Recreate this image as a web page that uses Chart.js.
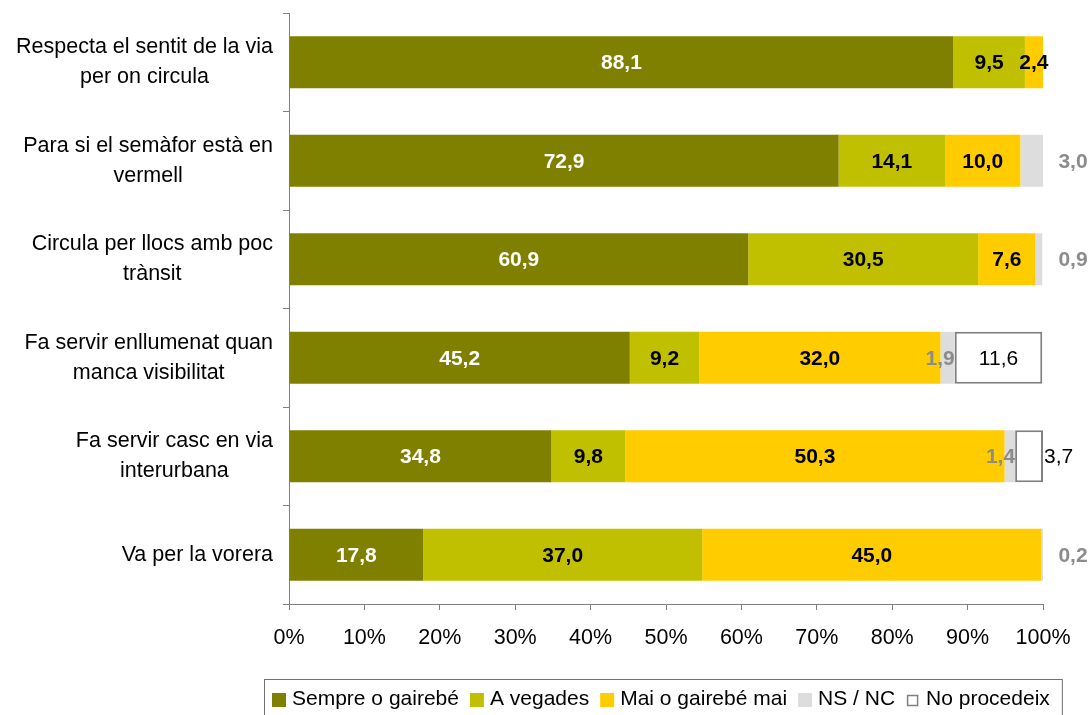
<!DOCTYPE html>
<html>
<head>
<meta charset="utf-8">
<script src="https://cdn.jsdelivr.net/npm/chart.js@4"></script>
<style>
  html, body { margin: 0; padding: 0; background: #fff; }
</style>
</head>
<body>
<canvas id="chart" width="1092" height="715"></canvas>
<script>
// categories (already split in lines, like the original)
const categories = [
    ['Respecta el sentit de la via', 'per on circula'],
    ['Para si el semàfor està en', 'vermell'],
    ['Circula per llocs amb poc', 'trànsit'],
    ['Fa servir enllumenat quan', 'manca visibilitat'],
    ['Fa servir casc en via', 'interurbana'],
    ['Va per la vorera']
];

const seriesNames = ['Sempre o gairebé', 'A vegades', 'Mai o gairebé mai', 'NS / NC', 'No procedeix'];

const sempre      = [88.1, 72.9, 60.9, 45.2, 34.8, 17.8];
const aVegades    = [9.5, 14.1, 30.5, 9.2, 9.8, 37.0];
const mai         = [2.4, 10.0, 7.6, 32.0, 50.3, 45.0];
const nsnc        = [null, 3.0, 0.9, 1.9, 1.4, 0.2];
const noProcedeix = [null, null, null, 11.6, 3.7, null];

const xTicks = [0, 10, 20, 30, 40, 50, 60, 70, 80, 90, 100];

const FONT = 'Arial, "Liberation Sans", sans-serif';
const TEXT_SIZE = 21.5;
const AXIS_GRAY = '#808080';

const fills   = ['#808000', '#C0C000', '#FFCC00', '#DDDDDD', '#FFFFFF'];
const borders = [null, null, null, null, AXIS_GRAY];
const labelColors = ['#FFFFFF', '#000000', '#000000', '#8C8C8C', '#000000'];
const labelWeights = ['bold', 'bold', 'bold', 'bold', 'normal'];

const seriesData = [sempre, aVegades, mai, nsnc, noProcedeix];

function fmt(v) {
    return v.toFixed(1).replace('.', ',');
}

// values written on the bars
const barLabels = {
    id: 'barLabels',
    afterDatasetsDraw(chart) {
        const ctx = chart.ctx;
        const area = chart.chartArea;
        ctx.save();
        ctx.textBaseline = 'middle';
        chart.data.datasets.forEach((ds, di) => {
            const meta = chart.getDatasetMeta(di);
            ctx.font = labelWeights[di] + ' 21px ' + FONT;
            ctx.fillStyle = labelColors[di];
            meta.data.forEach((bar, i) => {
                const v = ds.data[i];
                if (v == null) return;
                const txt = fmt(v);
                let x = (bar.x + bar.base) / 2;
                let align = 'center';
                if (di === 3) {
                    if (noProcedeix[i] == null) {
                        x = area.right + 30;
                    } else {
                        x = bar.x;
                        align = 'right';
                    }
                }
                if (di === 4 && (bar.x - bar.base) < ctx.measureText(txt).width + 8) {
                    x = bar.x + 1;
                    align = 'left';
                }
                ctx.textAlign = align;
                ctx.fillText(txt, x, bar.y + 1);
            });
        });
        ctx.restore();
    }
};

// category labels: block right aligned, lines centred
const categoryLabels = {
    id: 'categoryLabels',
    afterDraw(chart) {
        const ctx = chart.ctx;
        const yScale = chart.scales.y;
        const lineH = 30;
        const rightEdge = 273;
        ctx.save();
        ctx.font = TEXT_SIZE + 'px ' + FONT;
        ctx.fillStyle = '#000';
        ctx.textAlign = 'center';
        ctx.textBaseline = 'middle';
        categories.forEach((lines, i) => {
            const y = yScale.getPixelForValue(i);
            const maxW = Math.max(...lines.map(l => ctx.measureText(l).width));
            const cx = rightEdge - maxW / 2;
            const y0 = y - (lines.length - 1) * lineH / 2;
            lines.forEach((l, k) => ctx.fillText(l, cx, y0 + k * lineH));
        });
        ctx.restore();
    }
};

// boxed legend at the bottom
const boxLegend = {
    id: 'boxLegend',
    afterDraw(chart) {
        const ctx = chart.ctx;
        ctx.save();
        ctx.font = '21px ' + FONT;
        ctx.textBaseline = 'middle';
        ctx.textAlign = 'left';
        let x = 272;
        const boxTop = 693, box = 14, textY = 699;
        seriesNames.forEach((name, i) => {
            if (borders[i]) {
                ctx.fillStyle = fills[i];
                ctx.fillRect(x + 1, boxTop + 2, 11, 11);
                ctx.strokeStyle = borders[i];
                ctx.lineWidth = 1.5;
                ctx.strokeRect(x + 1.5, boxTop + 2.5, 10, 10);
            } else {
                ctx.fillStyle = fills[i];
                ctx.fillRect(x, boxTop, box, box);
            }
            x += box + 6;
            ctx.fillStyle = '#000';
            ctx.fillText(name, x, textY);
            x += ctx.measureText(name).width + 11;
        });
        ctx.strokeStyle = '#707070';
        ctx.lineWidth = 1;
        ctx.strokeRect(264.5, 679.5, x + 1 - 264, 60);
        ctx.restore();
    }
};

const ctx = document.getElementById('chart').getContext('2d');

const chart = new Chart(ctx, {
    type: 'bar',
    data: {
        labels: categories,
        datasets: seriesData.map((d, i) => ({
            label: seriesNames[i],
            data: d,
            backgroundColor: fills[i],
            borderColor: borders[i] || fills[i],
            borderWidth: borders[i] ? 2 : 0,
            borderSkipped: false,
            barPercentage: 0.527,
            categoryPercentage: 1
        }))
    },
    options: {
        indexAxis: 'y',
        responsive: false,
        animation: false,
        devicePixelRatio: 1,
        layout: {
            padding: { top: 13, left: 283, right: 49, bottom: 60 }
        },
        scales: {
            x: {
                stacked: true,
                min: 0,
                max: 100,
                afterBuildTicks(scale) {
                    scale.ticks = xTicks.map(v => ({ value: v }));
                },
                afterFit(scale) {
                    scale.height = 51;
                },
                ticks: {
                    callback: v => v + '%',
                    color: '#000',
                    padding: 15,
                    maxRotation: 0,
                    font: { size: TEXT_SIZE, family: FONT }
                },
                grid: {
                    drawOnChartArea: false,
                    drawTicks: true,
                    tickLength: 6,
                    color: AXIS_GRAY
                },
                border: { color: AXIS_GRAY, width: 1 }
            },
            y: {
                stacked: true,
                ticks: { display: false },
                afterFit(scale) {
                    scale.width = 6;
                },
                grid: {
                    drawOnChartArea: false,
                    drawTicks: true,
                    tickLength: 6,
                    offset: true,
                    color: AXIS_GRAY
                },
                border: { color: AXIS_GRAY, width: 1 }
            }
        },
        plugins: {
            legend: { display: false },
            tooltip: { enabled: false }
        }
    },
    plugins: [barLabels, categoryLabels, boxLegend]
});
</script>
</body>
</html>
